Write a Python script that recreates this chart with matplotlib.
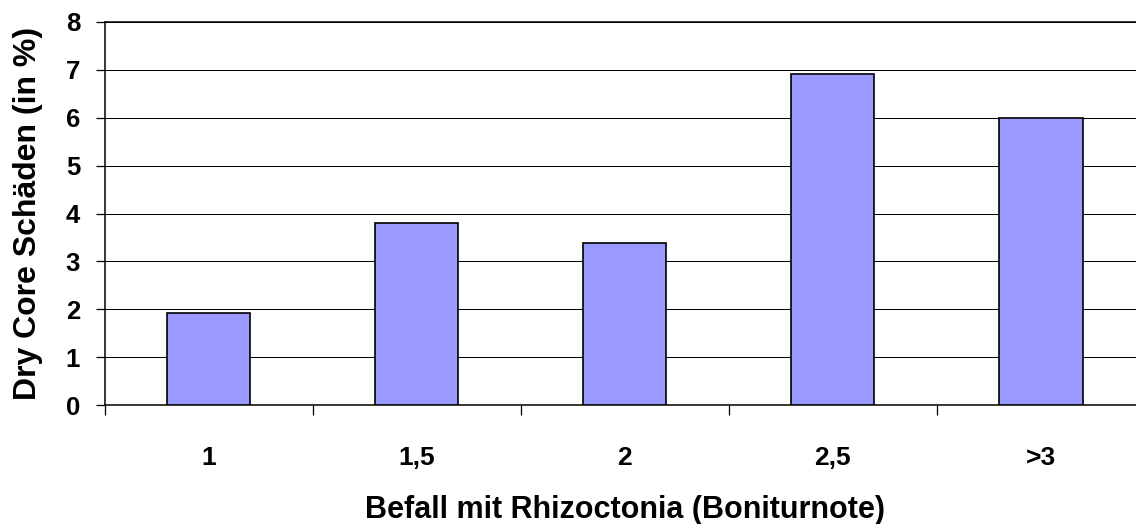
import matplotlib
matplotlib.use("Agg")
import matplotlib.pyplot as plt
import numpy as np

categories = ["1", "1,5", "2", "2,5", ">3"]
values = [1.92, 3.8, 3.39, 6.9, 6.0]
y_ticks = [0, 1, 2, 3, 4, 5, 6, 7, 8]
x_label = "Befall mit Rhizoctonia (Boniturnote)"
y_label = "Dry Core Schäden (in %)"

plt.rcParams['font.family'] = ['Liberation Sans', 'DejaVu Sans']
plt.rcParams['font.weight'] = 'bold'

W, H = 1136, 524
fig = plt.figure(figsize=(W / 100, H / 100), dpi=100)
left_px, right_px, top_px, bottom_px = 104.5, 1145.0, 21.7, 405.3
ax = fig.add_axes([left_px / W, (H - bottom_px) / H,
                   (right_px - left_px) / W, (bottom_px - top_px) / H])

x = np.arange(len(categories))
ax.bar(x, values, width=0.4, color="#9999FF", edgecolor="black", linewidth=1.2, zorder=3)

ax.set_xlim(-0.5, len(categories) - 0.5)
ax.set_ylim(0, 8)
ax.set_yticks(y_ticks)
ax.set_yticklabels([str(v) for v in y_ticks], fontsize=18.5, fontweight='bold')
ax.yaxis.grid(True, color="black", linewidth=0.75)
ax.set_axisbelow(True)

# labels at category centres, tick marks at category boundaries
ax.set_xticks(x)
ax.set_xticklabels(categories, fontsize=19, fontweight='bold')
ax.set_xticks(np.arange(-0.5, len(categories) + 0.5, 1), minor=True)
ax.tick_params(axis='x', which='major', length=0, pad=29)
ax.tick_params(axis='x', which='minor', length=7, width=0.9, direction='out', color='black')
ax.tick_params(axis='y', which='major', length=6.5, width=0.9, direction='out', pad=11)

for s in ['left', 'bottom', 'top', 'right']:
    ax.spines[s].set_linewidth(1.1)
    ax.spines[s].set_color('black')

ax.set_xlabel(x_label, fontsize=22, fontweight='bold')
ax.xaxis.set_label_coords(0.5, (6 - (H - bottom_px)) / (bottom_px - top_px))
ax.xaxis.label.set_va('baseline')

ax.set_ylabel(y_label, fontsize=23, fontweight='bold')
ax.yaxis.set_label_coords((36 - left_px) / (right_px - left_px), 0.5)
ax.yaxis.label.set_va('baseline')

fig.savefig("out.png", dpi=100)
